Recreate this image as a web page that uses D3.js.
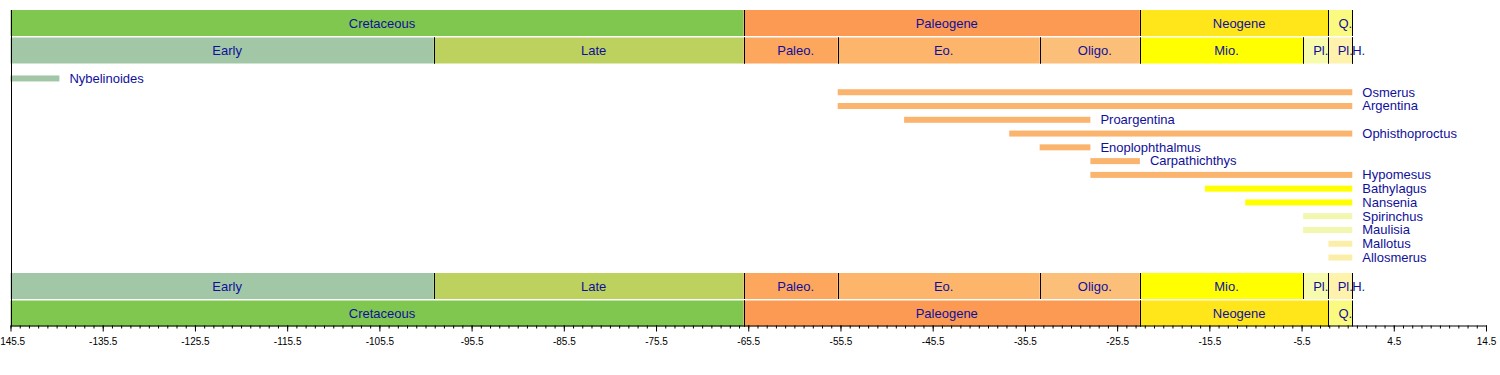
<!DOCTYPE html>
<html>
<head>
<meta charset="utf-8">
<script src="https://cdn.jsdelivr.net/npm/d3@7"></script>
<style>
  body { margin: 0; background: #fff; }
  svg { display: block; font-family: "Liberation Sans", Arial, sans-serif; }
</style>
</head>
<body>
<div id="chart"></div>
<script>
// periods (outer band) — Ma, negative = before present
const periodNames  = ['Cretaceous', 'Paleogene', 'Neogene', 'Q.'];
const periodStart  = [-145.5, -66.0, -23.03, -2.588];
const periodEnd    = [-66.0, -23.03, -2.588, 0];
const periodColors = ['#80c74f', '#fc9952', '#ffe61a', '#fafa80'];

// epochs (inner band)
const epochNames  = ['Early', 'Late', 'Paleo.', 'Eo.', 'Oligo.', 'Mio.', 'Pl.', 'Pl.', 'H.'];
const epochStart  = [-145.5, -99.6, -66.0, -55.8, -33.9, -23.03, -5.332, -2.588, -0.0117];
const epochEnd    = [-99.6, -66.0, -55.8, -33.9, -23.03, -5.332, -2.588, -0.0117, 0];
const epochColors = ['#a1c7a6', '#bdd15e', '#fca65e', '#fcb56b', '#fcbf7a', '#ffff00', '#f7fbad', '#fff2ad', '#fff2e0'];

// fossil ranges
const taxa = ['Nybelinoides', 'Osmerus', 'Argentina', 'Proargentina', 'Ophisthoproctus',
  'Enoplophthalmus', 'Carpathichthys', 'Hypomesus', 'Bathylagus', 'Nansenia',
  'Spirinchus', 'Maulisia', 'Mallotus', 'Allosmerus'];
const taxonStart = [-145.5, -55.8, -55.8, -48.6, -37.2, -33.9, -28.4, -28.4, -15.97, -11.608, -5.332, -5.332, -2.588, -2.588];
const taxonEnd   = [-140.2, 0, 0, -28.4, 0, -28.4, -23.03, 0, 0, 0, 0, 0, 0, 0];
const taxonColors = ['#a1c7a6', '#fbb46e', '#fbb46e', '#fbb46e', '#fbb46e', '#fbb46e', '#fbb46e',
  '#fbb46e', '#ffff00', '#ffff00', '#f2f7b0', '#f2f7b0', '#fbeea8', '#fbeea8'];

const axisTicks = [-145.5, -135.5, -125.5, -115.5, -105.5, -95.5, -85.5, -75.5, -65.5,
  -55.5, -45.5, -35.5, -25.5, -15.5, -5.5, 4.5, 14.5];
const minorStep = 1;

const W = 1500, H = 375;
const bandH = 26, bandGap = 1.5;
const top0 = 10;
const rowsTop = top0 + 2 * bandH + bandGap + 0.5;   // 64
const rowsBottom = 272;
const axisY = rowsBottom + 1 + 2 * bandH + bandGap - 1; // ~325.5
const textColor = '#10109a';

const svg = d3.select('#chart').append('svg')
  .attr('width', W).attr('height', H);

const x = d3.scaleLinear().domain([-145.5, 14.5]).range([10.5, 1486]);

const periods = periodNames.map((n, i) => ({ name: n, start: periodStart[i], end: periodEnd[i], color: periodColors[i] }));
const epochs  = epochNames.map((n, i) => ({ name: n, start: epochStart[i], end: epochEnd[i], color: epochColors[i] }));

function drawBand(cells, y) {
  const g = svg.append('g').attr('transform', `translate(0,${y})`);
  g.selectAll('rect')
    .data(cells)
    .join('rect')
    .attr('x', d => x(d.start))
    .attr('width', d => x(d.end) - x(d.start))
    .attr('y', 0)
    .attr('height', bandH)
    .attr('fill', d => d.color);

  g.selectAll('line')
    .data(cells.flatMap(d => [d.start, d.end]))
    .join('line')
    .attr('x1', d => Math.round(x(d)) + 0.5)
    .attr('x2', d => Math.round(x(d)) + 0.5)
    .attr('y1', 0).attr('y2', bandH)
    .attr('stroke', '#000')
    .attr('stroke-width', 1);

  // labels sit a few px right of the cell centre, like the original
  const narrow = d => x(d.end) - x(d.start) < 6;
  g.selectAll('text')
    .data(cells)
    .join('text')
    .attr('x', d => narrow(d) ? x(d.start) : (x(d.start) + x(d.end)) / 2 + 5)
    .attr('text-anchor', d => narrow(d) ? 'start' : 'middle')
    .attr('y', bandH / 2)
    .attr('dy', '0.36em')
    .attr('font-size', 13)
    .attr('fill', textColor)
    .text(d => d.name);
}

drawBand(periods, top0);
drawBand(epochs, top0 + bandH + bandGap);
drawBand(epochs, rowsBottom + 1);
drawBand(periods, rowsBottom + 1 + bandH + bandGap);

// taxon rows
const y = d3.scalePoint().domain(taxa).range([rowsTop, rowsBottom]).padding(1.05);
const rows = taxa.map((t, i) => ({ name: t, start: taxonStart[i], end: taxonEnd[i], color: taxonColors[i] }));

svg.append('g').selectAll('rect')
  .data(rows)
  .join('rect')
  .attr('x', d => x(d.start))
  .attr('width', d => x(d.end) - x(d.start))
  .attr('y', d => y(d.name) - 3)
  .attr('height', 6)
  .attr('fill', d => d.color);

svg.append('g').selectAll('text')
  .data(rows)
  .join('text')
  .attr('x', d => x(d.end) + 10)
  .attr('y', d => y(d.name))
  .attr('dy', '0.33em')
  .attr('font-size', 13)
  .attr('fill', textColor)
  .text(d => d.name);

// left frame line
svg.append('line')
  .attr('x1', Math.round(x(-145.5)) + 0.5).attr('x2', Math.round(x(-145.5)) + 0.5)
  .attr('y1', top0).attr('y2', axisY)
  .attr('stroke', '#000');

// axis: minor then major ticks
const minorTicks = d3.range(-145.5, 14.5 + minorStep / 2, minorStep);
svg.append('g')
  .attr('transform', `translate(0,${axisY})`)
  .call(d3.axisBottom(x).tickValues(minorTicks).tickSize(3).tickSizeOuter(0).tickFormat(''))
  .call(g => g.select('.domain').remove());

svg.append('g')
  .attr('transform', `translate(0,${axisY})`)
  .call(d3.axisBottom(x).tickValues(axisTicks).tickSize(6).tickSizeOuter(0).tickPadding(6)
    .tickFormat(d => d.toFixed(1)))
  .call(g => g.selectAll('text').attr('font-size', 10).attr('fill', '#000')
    .attr('font-family', '"Liberation Sans", Arial, sans-serif'));
</script>
</body>
</html>
